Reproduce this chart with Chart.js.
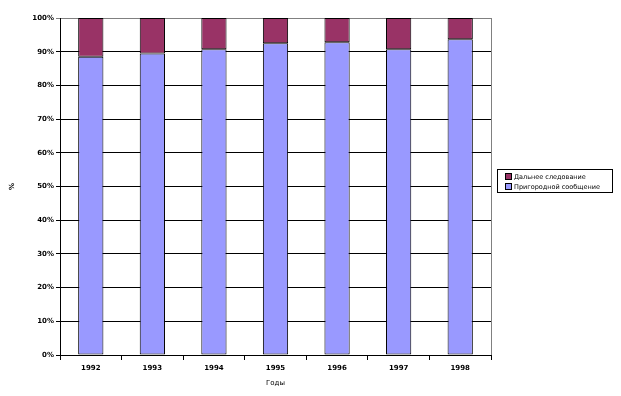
<!DOCTYPE html>
<html>
<head>
<meta charset="utf-8">
<script src="https://cdn.jsdelivr.net/npm/chart.js@4/dist/chart.umd.min.js"></script>
<style>
  body { margin: 0; background: #fff; }
  #wrap { position: relative; width: 621px; height: 396px; }
  #legend {
    position: absolute; left: 497px; top: 169px; width: 116px; height: 24px;
    border: 1px solid #000; font: 6.5px "DejaVu Sans", sans-serif; color: #000;
    padding: 2px 0 0 7px; box-sizing: border-box; line-height: 10px;
  }
  #legend span.box { display: inline-block; width: 5px; height: 5px; border: 1px solid #000; margin-right: 2px; vertical-align: -1px; }
</style>
</head>
<body>
<div id="wrap">
  <canvas id="mychart" width="621" height="396"></canvas>
  <div id="legend"></div>
</div>
<script>
var years = ['1992', '1993', '1994', '1995', '1996', '1997', '1998'];
var prigorod = [88.5, 89.5, 90.7, 92.5, 92.8, 90.7, 93.7];
var dalnee = [11.5, 10.5, 9.3, 7.5, 7.2, 9.3, 6.3];
var seriesNames = ['Дальнее следование', 'Пригородной сообщение'];
var colors = ['#993366', '#9999FF'];

// legend (top series first like the original)
var legendHtml = '';
for (let i = 0; i < seriesNames.length; i++) {
  legendHtml += '<div><span class="box" style="background:' + colors[i] + '"></span>' + seriesNames[i] + '</div>';
}
document.getElementById('legend').innerHTML = legendHtml;

var tickFont = { family: 'DejaVu Sans', size: 7, weight: 'bold' };

var borderPlugin = {
  id: 'plotBorder',
  beforeDatasetsDraw: function (chart) {
    var a = chart.chartArea;
    var c = chart.ctx;
    c.save();
    c.strokeStyle = '#808080';
    c.lineWidth = 1;
    c.beginPath();
    c.moveTo(Math.round(a.right) + 0.5, a.top);
    c.lineTo(Math.round(a.right) + 0.5, a.bottom);
    c.stroke();
    c.restore();
  }
};

var ctx = document.getElementById('mychart');
var myChart = new Chart(ctx, {
  type: 'bar',
  data: {
    labels: years,
    datasets: [{
      label: seriesNames[1],
      data: prigorod,
      backgroundColor: colors[1],
      borderColor: '#000',
      borderWidth: 1,
      borderSkipped: false,
      barPercentage: 0.41,
      categoryPercentage: 1
    }, {
      label: seriesNames[0],
      data: dalnee,
      backgroundColor: colors[0],
      borderColor: '#000',
      borderWidth: 1,
      borderSkipped: false,
      barPercentage: 0.41,
      categoryPercentage: 1
    }]
  },
  options: {
    responsive: false,
    animation: false,
    layout: { padding: { left: 8, top: 18, right: 130, bottom: 9 } },
    plugins: { legend: { display: false }, tooltip: { enabled: false } },
    scales: {
      x: {
        stacked: true,
        offset: true,
        grid: { offset: true, drawOnChartArea: false, drawTicks: true, tickLength: 5, color: '#000' },
        border: { color: '#000' },
        ticks: { color: '#000', font: tickFont, padding: 4 },
        title: { display: true, text: 'Годы', color: '#000', font: { family: 'DejaVu Sans', size: 7 }, padding: { top: 4, bottom: 0 } },
        afterFit: function (s) { s.height = 32; }
      },
      y: {
        stacked: true,
        min: 0,
        max: 100,
        ticks: {
          stepSize: 10, color: '#000', font: tickFont, padding: 2,
          callback: function (v) { return v + '%'; }
        },
        grid: {
          color: function (c) { return c.tick && c.tick.value === 100 ? '#808080' : '#000'; },
          tickLength: 4
        },
        border: { color: '#000' },
        title: { display: true, text: '%', color: '#000', font: { family: 'DejaVu Sans', size: 7, weight: 'bold' }, padding: 0 },
        afterFit: function (s) { s.width = 52; }
      }
    }
  },
  plugins: [borderPlugin]
});
</script>
</body>
</html>
